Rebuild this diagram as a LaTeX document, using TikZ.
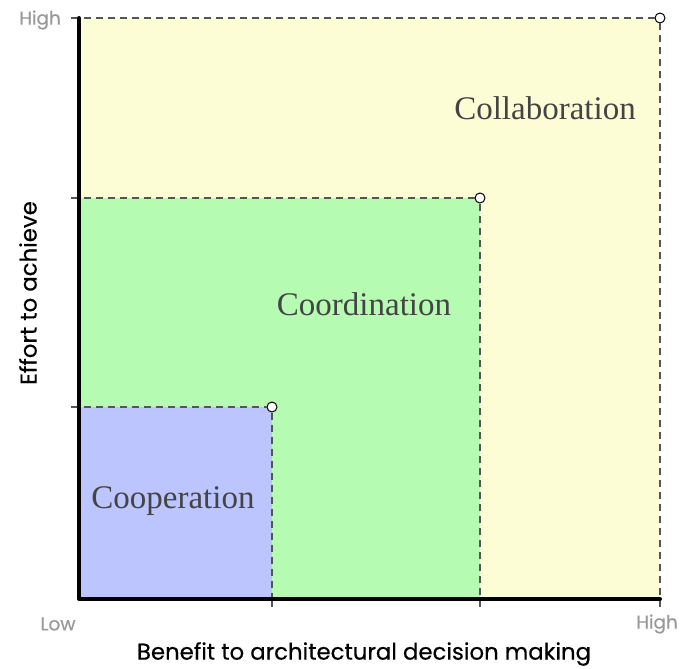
\documentclass[tikz,border=0pt]{standalone}
\usepackage{fontspec}
\setmainfont{Liberation Serif}
\newfontfamily\axisfont[FakeBold=0.4]{Poppins}
\definecolor{yel}{HTML}{FDFDD5}
\definecolor{grn}{HTML}{B5FBB2}
\definecolor{blu}{HTML}{BCC5FD}
\definecolor{lbl}{HTML}{444444}
\definecolor{dsh}{HTML}{555555}
\definecolor{tck}{HTML}{999999}
\begin{document}
\begin{tikzpicture}[x=1pt,y=-1pt,
  dashline/.style={draw=dsh,line width=1.3pt,dash pattern=on 7pt off 5pt},
  corner/.style={circle,draw=black,fill=white,line width=1pt,inner sep=0pt,minimum size=10pt},
  region/.style={font=\fontsize{33}{34}\selectfont,text=lbl},
  ticklbl/.style={font=\axisfont\fontsize{18.5}{19}\selectfont,text=tck},
  axislbl/.style={font=\axisfont\fontsize{22.8}{24}\selectfont,text=black},
  tickline/.style={draw=dsh,line width=1.3pt}]
\useasboundingbox (0,0) rectangle (680,669);
% regions
\fill[yel] (79,18) rectangle (660,599);
\fill[grn] (79,198) rectangle (480,599);
\fill[blu] (79,407) rectangle (272,599);
% corners
\coordinate (y1) at (72,407);
\coordinate (y2) at (72,198);
\coordinate (y3) at (72,18);
\coordinate (x1) at (272,607);
\coordinate (x2) at (480,607);
\coordinate (x3) at (660,607);
\node[corner] (c1) at (272,407) {};
\node[corner] (c2) at (480,198) {};
\node[corner] (c3) at (660,18) {};
\draw[dashline] (y1) -- (c1.west);
\draw[dashline] (c1.south) -- (x1);
\draw[dashline] (y2) -- (c2.west);
\draw[dashline] (c2.south) -- (x2);
\draw[dashline] (y3) -- (c3.west);
\draw[dashline] (c3.south) -- (x3);
% ticks
\draw[tickline] (71,407) -- (79,407);
\draw[tickline] (71,198) -- (79,198);
\draw[tickline] (71,18) -- (79,18);
\draw[tickline] (272,599) -- (272,607);
\draw[tickline] (480,599) -- (480,607);
\draw[tickline] (660,599) -- (660,607);
% axes
\coordinate (o) at (79,599);
\coordinate (ytop) at (79,18);
\coordinate (xend) at (660,599);
\draw[line width=4pt,line cap=round,line join=round] (ytop) -- (o) -- (xend);
% labels
\node[region] (coop) at (173,501) {Cooperation};
\node[region] (coord) at (364,304) {Coordination};
\node[region] (coll) at (545,108) {Collaboration};
\node[ticklbl] (hy) at (40,20) {High};
\node[ticklbl] (lo) at (58,624) {Low};
\node[ticklbl] (hx) at (657,624) {High};
\node[axislbl] (xl) at (364,654) {Benefit to architectural decision making};
\node[axislbl,rotate=90] (yl) at (28,293) {Effort to achieve};
\end{tikzpicture}
\end{document}
